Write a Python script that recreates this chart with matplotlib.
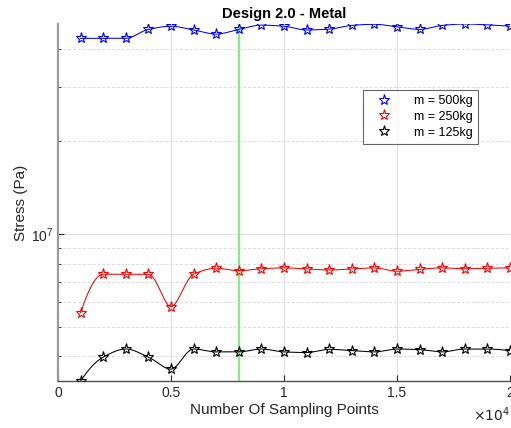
import numpy as np
import matplotlib
matplotlib.use("Agg")
import matplotlib.pyplot as plt
from matplotlib.ticker import FixedLocator, NullFormatter, FuncFormatter

plt.rcParams['font.family'] = ['Liberation Sans', 'DejaVu Sans']

# ---- data ----
sampling_points = [1000, 2000, 3000, 4000, 5000, 6000, 7000, 8000, 9000, 10000,
                   11000, 12000, 13000, 14000, 15000, 16000, 17000, 18000, 19000, 20000]
stress_500kg = [4.32e7, 4.32e7, 4.32e7, 4.62e7, 4.73e7, 4.60e7, 4.46e7, 4.62e7, 4.77e7, 4.73e7,
                4.60e7, 4.63e7, 4.76e7, 4.80e7, 4.71e7, 4.62e7, 4.76e7, 4.81e7, 4.78e7, 4.73e7]
stress_250kg = [5.55e6, 7.40e6, 7.40e6, 7.40e6, 5.81e6, 7.40e6, 7.74e6, 7.60e6, 7.71e6, 7.76e6,
                7.70e6, 7.64e6, 7.70e6, 7.76e6, 7.57e6, 7.68e6, 7.76e6, 7.71e6, 7.74e6, 7.76e6]
stress_125kg = [3.33e6, 3.98e6, 4.23e6, 3.98e6, 3.64e6, 4.23e6, 4.14e6, 4.14e6, 4.23e6, 4.14e6,
                4.12e6, 4.22e6, 4.18e6, 4.14e6, 4.23e6, 4.21e6, 4.14e6, 4.23e6, 4.23e6, 4.18e6]
labels = ['m = 500kg', 'm = 250kg', 'm = 125kg']
colors = ['#0000ff', '#ff0000', '#000000']
selected_points = 8000
title = 'Design 2.0 - Metal'


def pchip(x, y, xn):
    x = np.asarray(x, float); y = np.asarray(y, float)
    h = np.diff(x); delta = np.diff(y) / h
    n = len(x)
    d = np.zeros(n)
    for k in range(1, n - 1):
        if delta[k - 1] * delta[k] > 0:
            w1 = 2 * h[k] + h[k - 1]
            w2 = h[k] + 2 * h[k - 1]
            d[k] = (w1 + w2) / (w1 / delta[k - 1] + w2 / delta[k])

    def end(h0, h1, d0, d1):
        v = ((2 * h0 + h1) * d0 - h0 * d1) / (h0 + h1)
        if np.sign(v) != np.sign(d0):
            v = 0.0
        elif np.sign(d0) != np.sign(d1) and abs(v) > abs(3 * d0):
            v = 3 * d0
        return v
    d[0] = end(h[0], h[1], delta[0], delta[1])
    d[-1] = end(h[-1], h[-2], delta[-1], delta[-2])
    idx = np.clip(np.searchsorted(x, xn) - 1, 0, n - 2)
    t = (xn - x[idx]) / h[idx]
    h00 = 2 * t**3 - 3 * t**2 + 1
    h10 = t**3 - 2 * t**2 + t
    h01 = -2 * t**3 + 3 * t**2
    h11 = t**3 - t**2
    return h00 * y[idx] + h10 * h[idx] * d[idx] + h01 * y[idx + 1] + h11 * h[idx] * d[idx + 1]


fig = plt.figure(figsize=(5.11, 4.28), dpi=100)
ax = fig.add_axes([58 / 511, 1 - 381 / 428, 452 / 511, (381 - 24) / 428])

xs = np.linspace(sampling_points[0], sampling_points[-1], 800)
series = [stress_500kg, stress_250kg, stress_125kg]
for ys, c, lab in zip(series, colors, labels):
    ax.plot(xs, pchip(sampling_points, ys, xs), color=c, lw=0.75, zorder=3)
    ax.plot(sampling_points, ys, linestyle='none', marker='*', ms=8, mfc='none',
            mec=c, mew=0.8, label=lab, zorder=4)

ax.axvline(selected_points, color='#80f080', lw=1.5, zorder=2)

ax.set_yscale('log')
ax.set_xlim(0, 20000)
allv = np.concatenate([np.asarray(s) for s in series])
ax.set_ylim(allv.min(), allv.max())

ax.set_xticks([0, 5000, 10000, 15000, 20000])
ax.xaxis.set_major_formatter(FuncFormatter(lambda v, p: '%g' % (v / 1e4)))
ax.yaxis.set_major_locator(FixedLocator([1e7]))
ax.yaxis.set_minor_locator(FixedLocator([k * 1e6 for k in range(3, 10)] + [k * 1e7 for k in range(2, 5)]))
ax.yaxis.set_minor_formatter(NullFormatter())

ax.tick_params(direction='in', labelsize=10, colors='#262626', length=4)
ax.tick_params(which='minor', direction='in', length=2, colors='#262626')

ax.grid(True, which='major', color='#e0e0e0', lw=0.8, linestyle='-', zorder=0)
ax.grid(True, which='minor', axis='y', color='#dcdcdc', lw=0.7, linestyle=(0, (3, 2)), zorder=0)
ax.set_axisbelow(True)

for s in ['top', 'right']:
    ax.spines[s].set_visible(False)
ax.spines['left'].set_color('#9a9a9a')
ax.spines['left'].set_linewidth(1.6)
ax.spines['bottom'].set_color('#505050')
ax.spines['bottom'].set_linewidth(1.0)

ax.set_xlabel('Number Of Sampling Points', fontsize=11, color='#262626', labelpad=2)
ax.set_ylabel('Stress (Pa)', fontsize=11, color='#262626', labelpad=2)
ax.set_title(title, fontsize=10.5, fontweight='bold', pad=4)

ax.text(1.0, -0.068, r'$\times10^{4}$', transform=ax.transAxes, ha='right', va='top',
        fontsize=10, color='#262626')

leg = ax.legend(loc='upper left', bbox_to_anchor=(0.675, 0.815), borderaxespad=0,
                fontsize=9, frameon=True, fancybox=False, handlelength=2.5,
                handletextpad=1.2, borderpad=0.4, labelspacing=0.3)
leg.get_frame().set_edgecolor('#404040')
leg.get_frame().set_linewidth(0.8)

fig.savefig('out.png', dpi=100)
